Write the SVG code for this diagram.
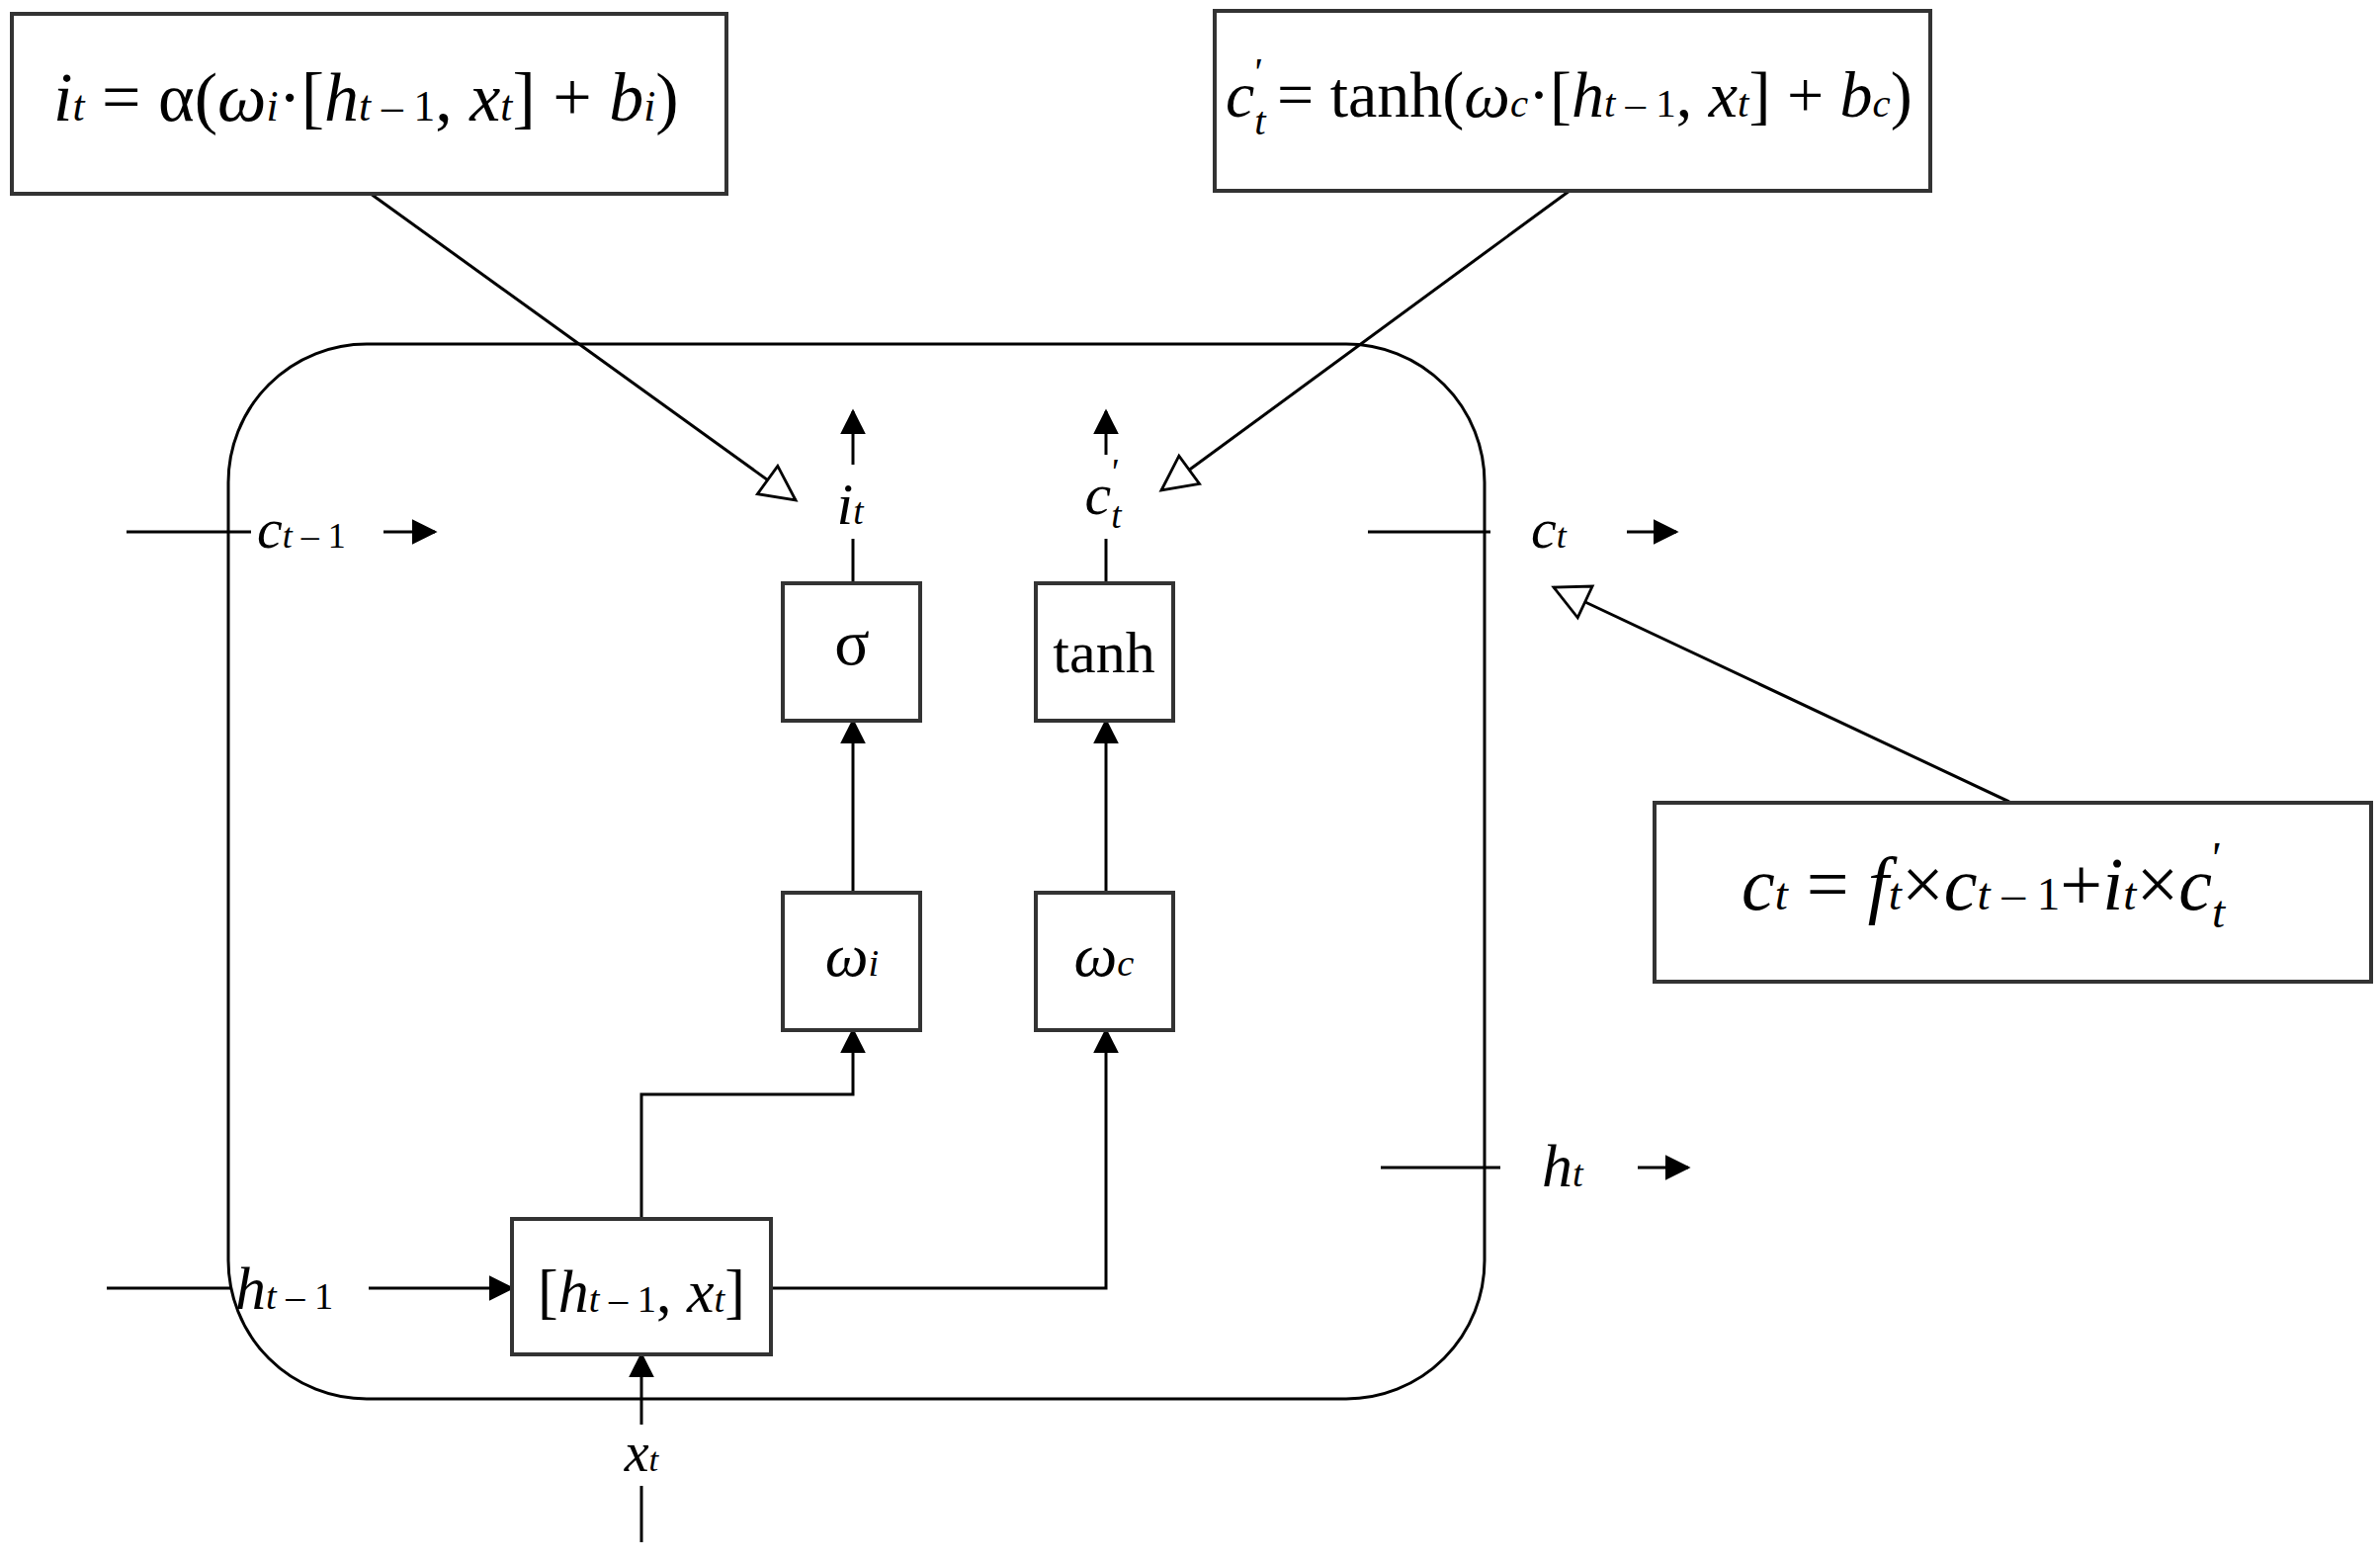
<svg xmlns="http://www.w3.org/2000/svg" width="2408" height="1579" viewBox="0 0 2408 1579">
<defs>
<style>
.l{stroke:#000;stroke-width:3;fill:none}
.b{stroke:#333;stroke-width:4;fill:#fff}
.t{font-family:"Liberation Serif",serif;font-style:italic;fill:#000}
.r{font-style:normal}
.s{font-size:0.62em}
</style>
<marker id="ah" viewBox="0 0 12 12" refX="11" refY="6" markerWidth="42" markerHeight="42" orient="auto" markerUnits="userSpaceOnUse"><path d="M1,1L11,6L1,11z" fill="#fff" stroke="#000" stroke-width="0.8"/></marker>
<marker id="af" viewBox="0 0 10 10" refX="9" refY="5" markerWidth="26" markerHeight="26" orient="auto" markerUnits="userSpaceOnUse"><path d="M0,0L10,5L0,10z" fill="#000"/></marker>
</defs>
<rect width="2408" height="1579" fill="#fff"/>
<g id="cell"><rect x="231" y="348" width="1271" height="1067" rx="140" ry="140" class="l"/></g>
<g id="connectors">
<line x1="128" y1="538" x2="254" y2="538" class="l"/>
<line x1="388" y1="538" x2="440" y2="538" class="l" marker-end="url(#af)"/>
<line x1="1384" y1="538" x2="1508" y2="538" class="l"/>
<line x1="1646" y1="538" x2="1696" y2="538" class="l" marker-end="url(#af)"/>
<line x1="1397" y1="1181" x2="1518" y2="1181" class="l"/>
<line x1="1657" y1="1181" x2="1708" y2="1181" class="l" marker-end="url(#af)"/>
<line x1="108" y1="1303" x2="235" y2="1303" class="l"/>
<line x1="373" y1="1303" x2="518" y2="1303" class="l" marker-end="url(#af)"/>
<line x1="649" y1="1560" x2="649" y2="1503" class="l"/>
<line x1="649" y1="1441" x2="649" y2="1370" class="l" marker-end="url(#af)"/>
<polyline points="649,1233 649,1107 863,1107 863,1042" class="l" marker-end="url(#af)"/>
<polyline points="780,1303 1119,1303 1119,1042" class="l" marker-end="url(#af)"/>
<line x1="863" y1="903" x2="863" y2="729" class="l" marker-end="url(#af)"/>
<line x1="1119" y1="903" x2="1119" y2="729" class="l" marker-end="url(#af)"/>
<line x1="863" y1="590" x2="863" y2="545" class="l"/>
<line x1="863" y1="470" x2="863" y2="416" class="l" marker-end="url(#af)"/>
<line x1="1119" y1="590" x2="1119" y2="545" class="l"/>
<line x1="1119" y1="460" x2="1119" y2="416" class="l" marker-end="url(#af)"/>
<line x1="375" y1="196" x2="805" y2="506" class="l" stroke-width="2" marker-end="url(#ah)"/>
<line x1="1588" y1="193" x2="1175" y2="496" class="l" stroke-width="2" marker-end="url(#ah)"/>
<line x1="2035" y1="812" x2="1572" y2="594" class="l" stroke-width="2" marker-end="url(#ah)"/>
</g>
<g id="eq1"><rect x="12" y="14" width="723" height="182" class="b"/>
<text x="54" y="122" class="t" font-size="70">i<tspan class="s">t</tspan><tspan class="r"> = α(</tspan>ω<tspan class="s">i</tspan><tspan class="r">·[</tspan>h<tspan class="s">t<tspan class="r"> – 1</tspan></tspan><tspan class="r">, </tspan>x<tspan class="s">t</tspan><tspan class="r">] + </tspan>b<tspan class="s">i</tspan><tspan class="r">)</tspan></text></g>
<g id="eq2"><rect x="1229" y="11" width="724" height="182" class="b"/>
<text x="1240" y="118" class="t" font-size="66">c<tspan class="s" dy="18">t</tspan><tspan class="s" dx="-14" dy="-50">'</tspan><tspan class="r" dy="32"> = tanh(</tspan>ω<tspan class="s">c</tspan><tspan class="r">·[</tspan>h<tspan class="s">t<tspan class="r"> – 1</tspan></tspan><tspan class="r">, </tspan>x<tspan class="s">t</tspan><tspan class="r">] + </tspan>b<tspan class="s">c</tspan><tspan class="r">)</tspan></text></g>
<g id="eq3"><rect x="1674" y="812" width="725" height="181" class="b"/>
<text x="1762" y="920" class="t" font-size="76">c<tspan class="s">t</tspan><tspan class="r"> = </tspan>f<tspan class="s">t</tspan><tspan class="r">×</tspan>c<tspan class="s">t<tspan class="r"> – 1</tspan></tspan><tspan class="r">+</tspan>i<tspan class="s">t</tspan><tspan class="r">×</tspan>c<tspan class="s" dy="18">t</tspan><tspan class="s" dx="-16" dy="-54">'</tspan></text></g>
<g id="sigma"><rect x="792" y="590" width="139" height="139" class="b"/><text x="862" y="672" text-anchor="middle" class="t r" font-size="66">σ</text></g>
<g id="tanh"><rect x="1048" y="590" width="139" height="139" class="b"/><text x="1117" y="680" text-anchor="middle" class="t r" font-size="60">tanh</text></g>
<g id="wi"><rect x="792" y="903" width="139" height="139" class="b"/><text x="862" y="987" text-anchor="middle" class="t" font-size="62">ω<tspan class="s">i</tspan></text></g>
<g id="wc"><rect x="1048" y="903" width="139" height="139" class="b"/><text x="1117" y="987" text-anchor="middle" class="t" font-size="62">ω<tspan class="s">c</tspan></text></g>
<g id="concat"><rect x="518" y="1233" width="262" height="137" class="b"/><text x="649" y="1327" text-anchor="middle" class="t" font-size="62"><tspan class="r">[</tspan>h<tspan class="s">t<tspan class="r"> – 1</tspan></tspan><tspan class="r">, </tspan>x<tspan class="s">t</tspan><tspan class="r">]</tspan></text></g>
<g id="labels">
<text x="260" y="554" class="t" font-size="58">c<tspan class="s">t<tspan class="r"> – 1</tspan></tspan></text>
<text x="1549" y="554" class="t" font-size="58">c<tspan class="s">t</tspan></text>
<text x="1560" y="1200" class="t" font-size="62">h<tspan class="s">t</tspan></text>
<text x="238" y="1324" class="t" font-size="62">h<tspan class="s">t<tspan class="r"> – 1</tspan></tspan></text>
<text x="649" y="1488" text-anchor="middle" class="t" font-size="56">x<tspan class="s">t</tspan></text>
<text x="860" y="530" text-anchor="middle" class="t" font-size="60">i<tspan class="s">t</tspan></text>
<text x="1116" y="520" text-anchor="middle" class="t" font-size="60">c<tspan class="s" dy="14">t</tspan><tspan class="s" dx="-12" dy="-44">'</tspan></text>
</g>
</svg>
